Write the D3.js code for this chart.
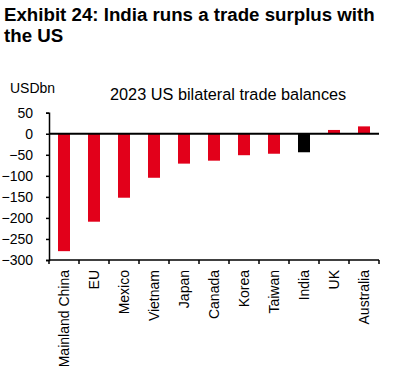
<!DOCTYPE html>
<html><head><meta charset="utf-8">
<script src="https://cdn.jsdelivr.net/npm/d3@7"></script>
<style>body{margin:0;background:#fff}svg{display:block}text{font-family:"Liberation Sans",Arial,sans-serif}</style>
</head><body>
<svg id="c" width="397" height="373"></svg>
<script>
const categories = ["Mainland China","EU","Mexico","Vietnam","Japan","Canada","Korea","Taiwan","India","UK","Australia"];
const values = [-279,-209,-152,-104.6,-71,-64,-51,-47.5,-44,9,17.5];
const highlight = ["India"];
const yTicks = [50,0,-50,-100,-150,-200,-250,-300];

const svg = d3.select("#c");
const red = "#e2001a";

// Title
svg.append("text").attr("x",4).attr("y",21).attr("font-weight","bold").attr("font-size",18.7).attr("fill","#000")
  .text("Exhibit 24: India runs a trade surplus with");
svg.append("text").attr("x",4).attr("y",42).attr("font-weight","bold").attr("font-size",18.7).attr("fill","#000")
  .text("the US");

svg.append("text").attr("x",10).attr("y",93).attr("font-size",14).text("USDbn");
svg.append("text").attr("x",110).attr("y",100).attr("font-size",16.3).text("2023 US bilateral trade balances");

const x = d3.scaleBand().domain(categories).range([49,379]).paddingInner(0.6).paddingOuter(0.3);
const y = d3.scaleLinear().domain([-300,50]).range([260,112.7]);

// bars
svg.append("g").selectAll("rect").data(categories).join("rect")
  .attr("x",d=>x(d)).attr("width",x.bandwidth())
  .attr("y",(d,i)=>y(Math.max(0,values[i])))
  .attr("height",(d,i)=>Math.abs(y(values[i])-y(0)))
  .attr("fill",d=>highlight.includes(d)?"#000":red);

// y axis
const ya = svg.append("g").attr("transform","translate(49,0)")
  .call(d3.axisLeft(y).tickValues(yTicks).tickSize(3).tickPadding(13));
ya.select(".domain").attr("stroke","#000").attr("stroke-width",1.5);
ya.selectAll(".tick line").attr("stroke","#000").attr("stroke-width",1.5);
ya.selectAll("text").attr("font-size",14).attr("fill","#000").attr("font-family","Liberation Sans, Arial, sans-serif");

// x axis at bottom
const xa = svg.append("g").attr("transform","translate(0,260)")
  .call(d3.axisBottom(x).tickSize(0).tickPadding(0));
xa.select(".domain").remove();
xa.selectAll("text").attr("font-size",14).attr("fill","#000").attr("font-family","Liberation Sans, Arial, sans-serif")
  .attr("text-anchor","end").attr("transform","rotate(-90)").attr("x",-10).attr("y",0).attr("dy","0.35em");
svg.append("line").attr("x1",49).attr("x2",379).attr("y1",260).attr("y2",260).attr("stroke","#000").attr("stroke-width",1.5);
const step = x.step();
const b0 = x(categories[0]) - x.paddingOuter()*step;
svg.append("g").selectAll("line").data(d3.range(categories.length+1)).join("line")
  .attr("x1",i=>b0+i*step).attr("x2",i=>b0+i*step).attr("y1",260).attr("y2",264)
  .attr("stroke","#000").attr("stroke-width",1.5);

// zero line
svg.append("line").attr("x1",49).attr("x2",379).attr("y1",y(0)).attr("y2",y(0)).attr("stroke","#000").attr("stroke-width",2);
</script>
</body></html>
